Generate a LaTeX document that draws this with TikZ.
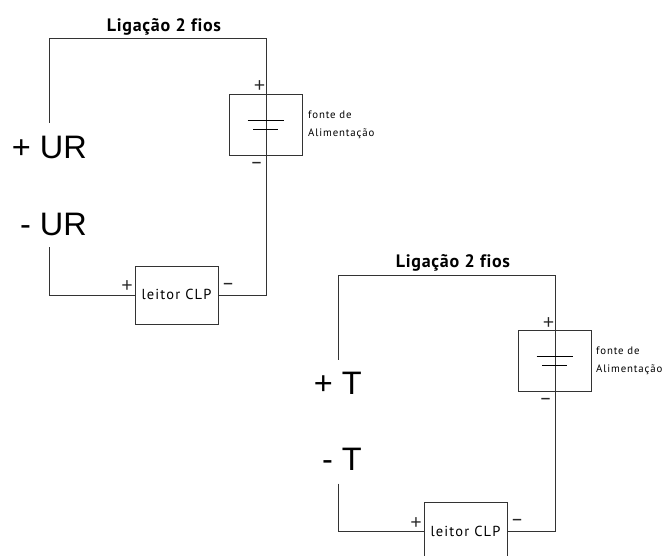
\documentclass[tikz,border=0pt]{standalone}
\usepackage{fontspec}
\setmainfont{Liberation Sans}
\newfontfamily\cadfont[LetterSpace=8,Ligatures=NoCommon]{PT Sans}
\newfontfamily\titlefont[LetterSpace=4,Ligatures=NoCommon]{PT Sans}
\newfontfamily\polefont{Open Sans}
\usetikzlibrary{positioning}
\tikzset{
	wire/.style={color=black!80, line width=.9pt},
	plate/.style={color=black, line width=.9pt},
	box/.style={draw=black!80, line width=.9pt, fill=none, inner sep=0},
	bigsign/.style={font=\fontsize{32.5}{33}\selectfont, anchor=base east, inner sep=0},
	title/.style={font=\titlefont\bfseries\fontsize{18}{20}\selectfont, inner sep=0},
	small/.style={font=\cadfont\fontsize{10.8}{18}\selectfont, align=left, anchor=west, inner sep=0},
	boxtext/.style={font=\cadfont\fontsize{14.5}{16}\selectfont, inner sep=0},
	pole/.style={font=\polefont\fontsize{20}{20}\selectfont, inner sep=0, text=black!85}
}
\begin{document}
\begin{tikzpicture}[x=1pt,y=-1pt]
	\clip (0,0) rectangle (663,556);

	%%Circuit with UR
	\node[bigsign] (ur1) at (87,158) {+ UR};
	\node[bigsign] (ur2) at (87,235) {- UR};
	\node[title] (titleA) at (164,27) {Ligação 2 fios};
	\node[box,minimum width=73pt,minimum height=61pt] (psuA) at (265.5,124.5) {};
	\node[box,minimum width=83pt,minimum height=58pt] (clpA) at (176.5,295) {};
	\node[boxtext] (clpAtext) at (176.5,294.5) {leitor CLP};
	\node[small] (psuAtext) at (308,124.5) {fonte de\\Alimentação};

	%%corners of the wires
	\coordinate (a1) at (49,123);
	\coordinate (a2) at (49,38.5);
	\coordinate (a3) at (266,38.5);
	\coordinate (a4) at (266,295);
	\coordinate (a5) at (49,247);
	\coordinate (a6) at (49,295);

	%%battery plates
	\coordinate (a7) at (247.5,120);
	\coordinate (a8) at (284,120);
	\coordinate (a9) at (253,129);
	\coordinate (a10) at (278,129);

	\draw[wire] (a1) -- (a2) -- (a3) -- (a4) -- (clpA.east |- a4);
	\draw[wire] (a5) -- (a6) -- (clpA.west |- a6);
	\draw[plate] (a7) -- (a8);
	\draw[plate] (a9) -- (a10);

	%%poles
	\node[pole] (pA1) at (259.5,87) {+};
	\node[pole] (pA2) at (256.5,165) {–};
	\node[pole] (pA3) at (127,287) {+};
	\node[pole] (pA4) at (228,286) {–};

	%%Circuit with T
	\node[bigsign] (t1) at (362,394) {+ T};
	\node[bigsign] (t2) at (362,470) {- T};
	\node[title] (titleB) at (453,263) {Ligação 2 fios};
	\node[box,minimum width=73pt,minimum height=61pt] (psuB) at (554.5,361) {};
	\node[box,minimum width=83pt,minimum height=58pt] (clpB) at (465.5,531.5) {};
	\node[boxtext] (clpBtext) at (465.5,531) {leitor CLP};
	\node[small] (psuBtext) at (596,361) {fonte de\\Alimentação};

	%%corners of the wires
	\coordinate (b1) at (338,359.5);
	\coordinate (b2) at (338,275);
	\coordinate (b3) at (555,275);
	\coordinate (b4) at (555,531.5);
	\coordinate (b5) at (338,483.5);
	\coordinate (b6) at (338,531.5);

	%%battery plates
	\coordinate (b7) at (536.5,356.5);
	\coordinate (b8) at (573,356.5);
	\coordinate (b9) at (542,365.5);
	\coordinate (b10) at (567,365.5);

	\draw[wire] (b1) -- (b2) -- (b3) -- (b4) -- (clpB.east |- b4);
	\draw[wire] (b5) -- (b6) -- (clpB.west |- b6);
	\draw[plate] (b7) -- (b8);
	\draw[plate] (b9) -- (b10);

	%%poles
	\node[pole] (pB1) at (548.5,323.5) {+};
	\node[pole] (pB2) at (545.5,401.5) {–};
	\node[pole] (pB3) at (416,523.5) {+};
	\node[pole] (pB4) at (517,522.5) {–};

\end{tikzpicture}
\end{document}
